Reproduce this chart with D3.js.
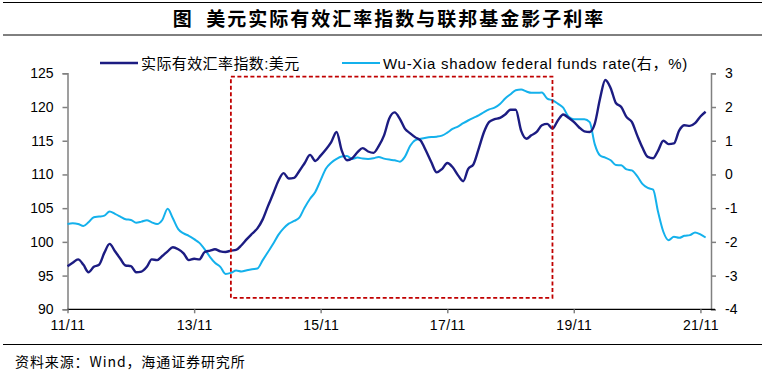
<!DOCTYPE html>
<html>
<head>
<meta charset="utf-8">
<script src="https://cdn.jsdelivr.net/npm/d3@7/dist/d3.min.js"></script>
<style>
  html, body { margin: 0; padding: 0; background: #fff; }
  svg { display: block; }
  .tick text { font-family: "Liberation Sans", Arial, sans-serif; font-size: 14px; fill: #000; }
</style>
</head>
<body>
<div id="chart"></div>
<script>
// 月度数据：2011-11 至 2021-12
const startMonth = '2011-11';

// 美元实际有效汇率指数（左轴）
const reerValues = [
  96.4, 96.9, 97.4, 96.6, 95.5, 96.3, 96.6, 98.4, 99.7, 98.6,
  97.5, 96.5, 96.4, 95.5, 95.6, 96.3, 97.4, 97.3, 97.9, 98.6,
  99.2, 98.9, 98.3, 97.3, 97.5, 97.4, 98.5, 98.7, 98.9, 98.6,
  98.5, 98.7, 98.8, 99.5, 100.4, 101.2, 102.0, 103.3, 105.3, 107.2,
  109.0, 110.2, 109.4, 109.5, 110.5, 111.7, 112.9, 112.0, 112.8, 113.7,
  114.8, 116.3, 113.6, 112.1, 112.4, 113.3, 113.9, 113.4, 113.2, 114.2,
  115.8, 118.3, 119.2, 118.2, 116.8, 116.1, 115.5, 115.0, 113.5, 111.8,
  110.3, 110.8, 111.7, 111.1, 109.9, 109.0, 110.8, 111.5, 113.8, 116.3,
  117.8, 118.2, 118.4, 118.9, 119.6, 119.6, 116.5, 115.3, 115.8, 116.3,
  117.3, 117.5, 116.8, 118.0, 118.9, 118.4, 117.8, 117.0, 116.4, 116.3,
  117.5, 121.3, 124.0, 122.8, 120.6, 120.0, 118.5, 117.8, 115.8, 114.0,
  112.6, 112.4, 113.5, 115.0, 114.5, 114.6, 116.5, 117.3, 117.2, 117.6,
  118.6, 119.3
];

// Wu-Xia 影子联邦基金利率（右轴，%）
const shadowValues = [
  -1.47, -1.45, -1.47, -1.53, -1.42, -1.27, -1.25, -1.22, -1.10, -1.17,
  -1.25, -1.33, -1.35, -1.43, -1.40, -1.36, -1.42, -1.47, -1.35, -1.02,
  -1.30, -1.62, -1.75, -1.82, -1.92, -2.03, -2.22, -2.45, -2.62, -2.74,
  -2.95, -2.92, -2.85, -2.88, -2.84, -2.81, -2.79, -2.55, -2.30, -2.05,
  -1.80, -1.60, -1.46, -1.38, -1.28, -0.98, -0.72, -0.52, -0.17, 0.17,
  0.35, 0.46, 0.53, 0.55, 0.46, 0.50, 0.47, 0.46, 0.48, 0.52,
  0.47, 0.44, 0.42, 0.38, 0.52, 0.85, 1.02, 1.06, 1.09, 1.11,
  1.12, 1.15, 1.24, 1.35, 1.42, 1.52, 1.60, 1.68, 1.75, 1.85,
  1.93, 1.98, 2.09, 2.25, 2.38, 2.50, 2.52, 2.46, 2.42, 2.42,
  2.43, 2.25, 2.20, 2.10, 1.98, 1.72, 1.64, 1.64, 1.64, 1.55,
  0.90, 0.56, 0.50, 0.42, 0.28, 0.27, 0.15, 0.12, -0.05, -0.28,
  -0.40, -0.45, -1.10, -1.70, -1.95, -1.85, -1.88, -1.82, -1.80, -1.72,
  -1.78, -1.87
];

const xDomain = ['2011-11', '2022-01'];
const xTickLabels = ['11/11', '13/11', '15/11', '17/11', '19/11', '21/11'];
const xTickDates = ['2011-11', '2013-11', '2015-11', '2017-11', '2019-11', '2021-11'];
const leftTicks = [90, 95, 100, 105, 110, 115, 120, 125];
const rightTicks = [-4, -3, -2, -1, 0, 1, 2, 3];

// 红色虚线框（标注区间）
const boxStart = '2014-06';
const boxEnd = '2019-07';
const boxLow = 91.7;
const boxHigh = 124.5;

const titleText = '图  美元实际有效汇率指数与联邦基金影子利率';
const legendNames = ['实际有效汇率指数:美元', 'Wu-Xia shadow federal funds rate(右，%)'];
const sourceText = '资料来源：Wind，海通证券研究所';

const colors = { reer: '#1c1c82', shadow: '#14b1ec', box: '#c00000' };

const width = 772, height = 373;
const margin = { top: 73.3, right: 61, bottom: 63.7, left: 67.5 };

const parseMonth = d3.timeParse('%Y-%m');
const start = parseMonth(startMonth);
const months = reerValues.map((_, i) => d3.timeMonth.offset(start, i));

const svg = d3.select('#chart').append('svg')
  .attr('width', width)
  .attr('height', height);

const x = d3.scaleTime()
  .domain(xDomain.map(parseMonth))
  .range([margin.left, width - margin.right]);

const yLeft = d3.scaleLinear()
  .domain([90, 125])
  .range([height - margin.bottom, margin.top]);

const yRight = d3.scaleLinear()
  .domain([-4, 3])
  .range([height - margin.bottom, margin.top]);

// 标题与分隔线
svg.append('line')
  .attr('x1', 3).attr('x2', 762).attr('y1', 2.5).attr('y2', 2.5)
  .attr('stroke', '#000').attr('stroke-width', 1);
svg.append('line')
  .attr('x1', 3).attr('x2', 762).attr('y1', 35).attr('y2', 35)
  .attr('stroke', '#000').attr('stroke-width', 1);
svg.append('text')
  .attr('x', 389).attr('y', 26)
  .attr('text-anchor', 'middle')
  .style('white-space', 'pre')
  .style('font-family', '"Noto Sans CJK SC", sans-serif')
  .style('font-size', '19px')
  .style('font-weight', 'bold')
  .style('letter-spacing', '2px')
  .text(titleText);

// 左轴
const leftAxis = svg.append('g')
  .attr('transform', `translate(${margin.left},0)`)
  .call(d3.axisLeft(yLeft).tickValues(leftTicks).tickSize(5).tickPadding(9));
leftAxis.select('.domain').attr('stroke', '#808080').attr('stroke-width', 1.5);
leftAxis.selectAll('.tick line').attr('stroke', '#808080').attr('stroke-width', 1.5);

// 右轴
const rightAxis = svg.append('g')
  .attr('transform', `translate(${width - margin.right},0)`)
  .call(d3.axisRight(yRight).tickValues(rightTicks).tickSize(5).tickPadding(9)
    .tickFormat(d => d < 0 ? '-' + Math.abs(d) : d));
rightAxis.select('.domain').attr('stroke', '#808080').attr('stroke-width', 1.5);
rightAxis.selectAll('.tick line').attr('stroke', '#808080').attr('stroke-width', 1.5);

// 横轴
const xAxis = svg.append('g')
  .attr('transform', `translate(0,${height - margin.bottom})`)
  .call(d3.axisBottom(x)
    .tickValues(xTickDates.map(parseMonth))
    .tickFormat((d, i) => xTickLabels[i])
    .tickSize(4).tickPadding(4));
xAxis.select('.domain').attr('stroke', '#000').attr('stroke-width', 1.2)
  .attr('d', `M${margin.left},0H${width - margin.right + 4}`);
xAxis.selectAll('.tick line').attr('stroke', '#808080').attr('stroke-width', 1.5);
xAxis.selectAll('.tick text').attr('dy', '0.9em').style('letter-spacing', '0.4px');

// 数据线
const reerLine = d3.line()
  .x((d, i) => x(months[i]))
  .y(d => yLeft(d))
  .curve(d3.curveMonotoneX);

const shadowLine = d3.line()
  .x((d, i) => x(months[i]))
  .y(d => yRight(d))
  .curve(d3.curveMonotoneX);

svg.append('path')
  .datum(shadowValues)
  .attr('fill', 'none')
  .attr('stroke', colors.shadow)
  .attr('stroke-width', 2)
  .attr('d', shadowLine);

svg.append('path')
  .datum(reerValues)
  .attr('fill', 'none')
  .attr('stroke', colors.reer)
  .attr('stroke-width', 2.4)
  .attr('d', reerLine);

// 红色虚线框
svg.append('rect')
  .attr('x', x(parseMonth(boxStart)))
  .attr('y', yLeft(boxHigh))
  .attr('width', x(parseMonth(boxEnd)) - x(parseMonth(boxStart)))
  .attr('height', yLeft(boxLow) - yLeft(boxHigh))
  .attr('fill', 'none')
  .attr('stroke', colors.box)
  .attr('stroke-width', 1.8)
  .attr('stroke-dasharray', '4,2.5');

// 图例
const legend = svg.append('g').attr('class', 'legend');
const legendItems = [
  { name: legendNames[0], color: colors.reer, x0: 100, w: 2.4, spacing: 0.4 },
  { name: legendNames[1], color: colors.shadow, x0: 342, w: 2, spacing: 0.7 }
];
legendItems.forEach(item => {
  legend.append('line')
    .attr('x1', item.x0).attr('x2', item.x0 + 38)
    .attr('y1', 63).attr('y2', 63)
    .attr('stroke', item.color).attr('stroke-width', item.w);
  legend.append('text')
    .attr('x', item.x0 + 41).attr('y', 68.5)
    .style('font-family', '"Liberation Sans", Arial, "Noto Sans CJK SC", sans-serif')
    .style('font-size', '15px')
    .style('letter-spacing', item.spacing + 'px')
    .text(item.name);
});

// 底部分隔线与资料来源
svg.append('line')
  .attr('x1', 3).attr('x2', 762).attr('y1', 344.5).attr('y2', 344.5)
  .attr('stroke', '#000').attr('stroke-width', 1);
svg.append('text')
  .attr('x', 15).attr('y', 367)
  .style('font-family', '"Noto Sans CJK SC", sans-serif')
  .style('font-size', '14px')
  .style('letter-spacing', '0.9px')
  .text(sourceText);
</script>
</body>
</html>
